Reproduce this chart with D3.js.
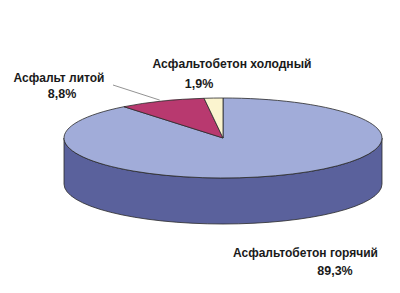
<!DOCTYPE html>
<html>
<head>
<meta charset="utf-8">
<script src="https://cdn.jsdelivr.net/npm/d3@7"></script>
<style>
  body { margin: 0; background: #fff; }
  text { font-family: "Liberation Sans Narrow", "Liberation Sans", Arial, sans-serif; font-weight: bold; fill: #1a1a1a; }
</style>
</head>
<body>
<svg id="chart" width="400" height="293"></svg>
<script>
// chart data
var categories = ["Асфальтобетон горячий", "Асфальт литой", "Асфальтобетон холодный"];
var values     = [89.3, 8.8, 1.9];
var valueLabels = ["89,3%", "8,8%", "1,9%"];

var topColors  = ["#a1acd9", "#b8396f", "#fbf4cf"];
var sideColors = ["#5a619c", "#7a2550", "#c8c096"];

function buildPie3D(opts){

  var svg = d3.select('#' + opts.svgID);
  var cx = opts.cx, cy = opts.cy, rx = opts.rx, ry = opts.ry, depth = opts.depth;

  var pie = d3.pie().sort(null).value(function(d) { return d.value; });
  var data = categories.map(function(c, i) { return {name: c, value: values[i], label: valueLabels[i], i: i}; });
  var arcs = pie(data);

  var topColor  = d3.scaleOrdinal().domain(categories).range(topColors);
  var sideColor = d3.scaleOrdinal().domain(categories).range(sideColors);

  // angle measured clockwise from 12 o'clock
  function pt(a, dy) {
    return [cx + rx * Math.sin(a), cy - ry * Math.cos(a) + (dy || 0)];
  }

  function topPath(d) {
    var p0 = pt(d.startAngle), p1 = pt(d.endAngle);
    var large = (d.endAngle - d.startAngle) > Math.PI ? 1 : 0;
    return "M" + cx + "," + cy + "L" + p0 + "A" + rx + "," + ry + " 0 " + large + " 1 " + p1 + "Z";
  }

  // only the front half (90deg .. 270deg) of the rim is visible
  function sidePath(d) {
    var a = Math.max(d.startAngle, Math.PI / 2),
        b = Math.min(d.endAngle, 3 * Math.PI / 2);
    if (b <= a) return null;
    var p0 = pt(a), p1 = pt(b), q0 = pt(a, depth), q1 = pt(b, depth);
    var large = (b - a) > Math.PI ? 1 : 0;
    return "M" + p0 + "A" + rx + "," + ry + " 0 " + large + " 1 " + p1 +
           "L" + q1 + "A" + rx + "," + ry + " 0 " + large + " 0 " + q0 + "Z";
  }

  svg.append("g").selectAll("path")
      .data(arcs.filter(function(d) { return sidePath(d) !== null; }))
    .enter().append("path")
      .attr("d", sidePath)
      .style("fill", function(d) { return sideColor(d.data.name); })
      .style("stroke", "#2a2a2a")
      .style("stroke-width", 0.8)
      .style("stroke-linejoin", "round");

  svg.append("g").selectAll("path")
      .data(arcs)
    .enter().append("path")
      .attr("d", topPath)
      .style("fill", function(d) { return topColor(d.data.name); })
      .style("stroke", "#2a2a2a")
      .style("stroke-width", 0.8)
      .style("stroke-linejoin", "round");

  // labels: [name x, name y, name anchor, value x, value y, value anchor]
  var labelPos = [
    [233, 257, "start", 335, 275, "middle"],
    [59, 82, "middle", 62, 98, "middle"],
    [232, 68, "middle", 199, 88, "middle"]
  ];
  var nameWidth = [145, 91, 159];

  var labels = svg.append("g");
  arcs.forEach(function(d) {
    var lp = labelPos[d.data.i];
    labels.append("text")
        .attr("x", lp[0]).attr("y", lp[1])
        .attr("text-anchor", lp[2])
        .attr("font-size", 12.5)
        .attr("textLength", nameWidth[d.data.i])
        .attr("lengthAdjust", "spacingAndGlyphs")
        .text(d.data.name);
    labels.append("text")
        .attr("x", lp[3]).attr("y", lp[4])
        .attr("text-anchor", lp[5])
        .attr("font-size", 12.5)
        .text(d.data.label);
  });

  // leader line for the small magenta slice
  var lit = arcs[1];
  var mid = (lit.startAngle + lit.endAngle) / 2;
  var tip = pt(mid);
  svg.append("line")
      .attr("x1", 113).attr("y1", 85)
      .attr("x2", tip[0] - 2).attr("y2", tip[1] - 1)
      .style("stroke", "#777")
      .style("stroke-width", 0.8);
}

buildPie3D({svgID: "chart", cx: 223, cy: 138, rx: 159, ry: 40, depth: 46});
</script>
</body>
</html>
